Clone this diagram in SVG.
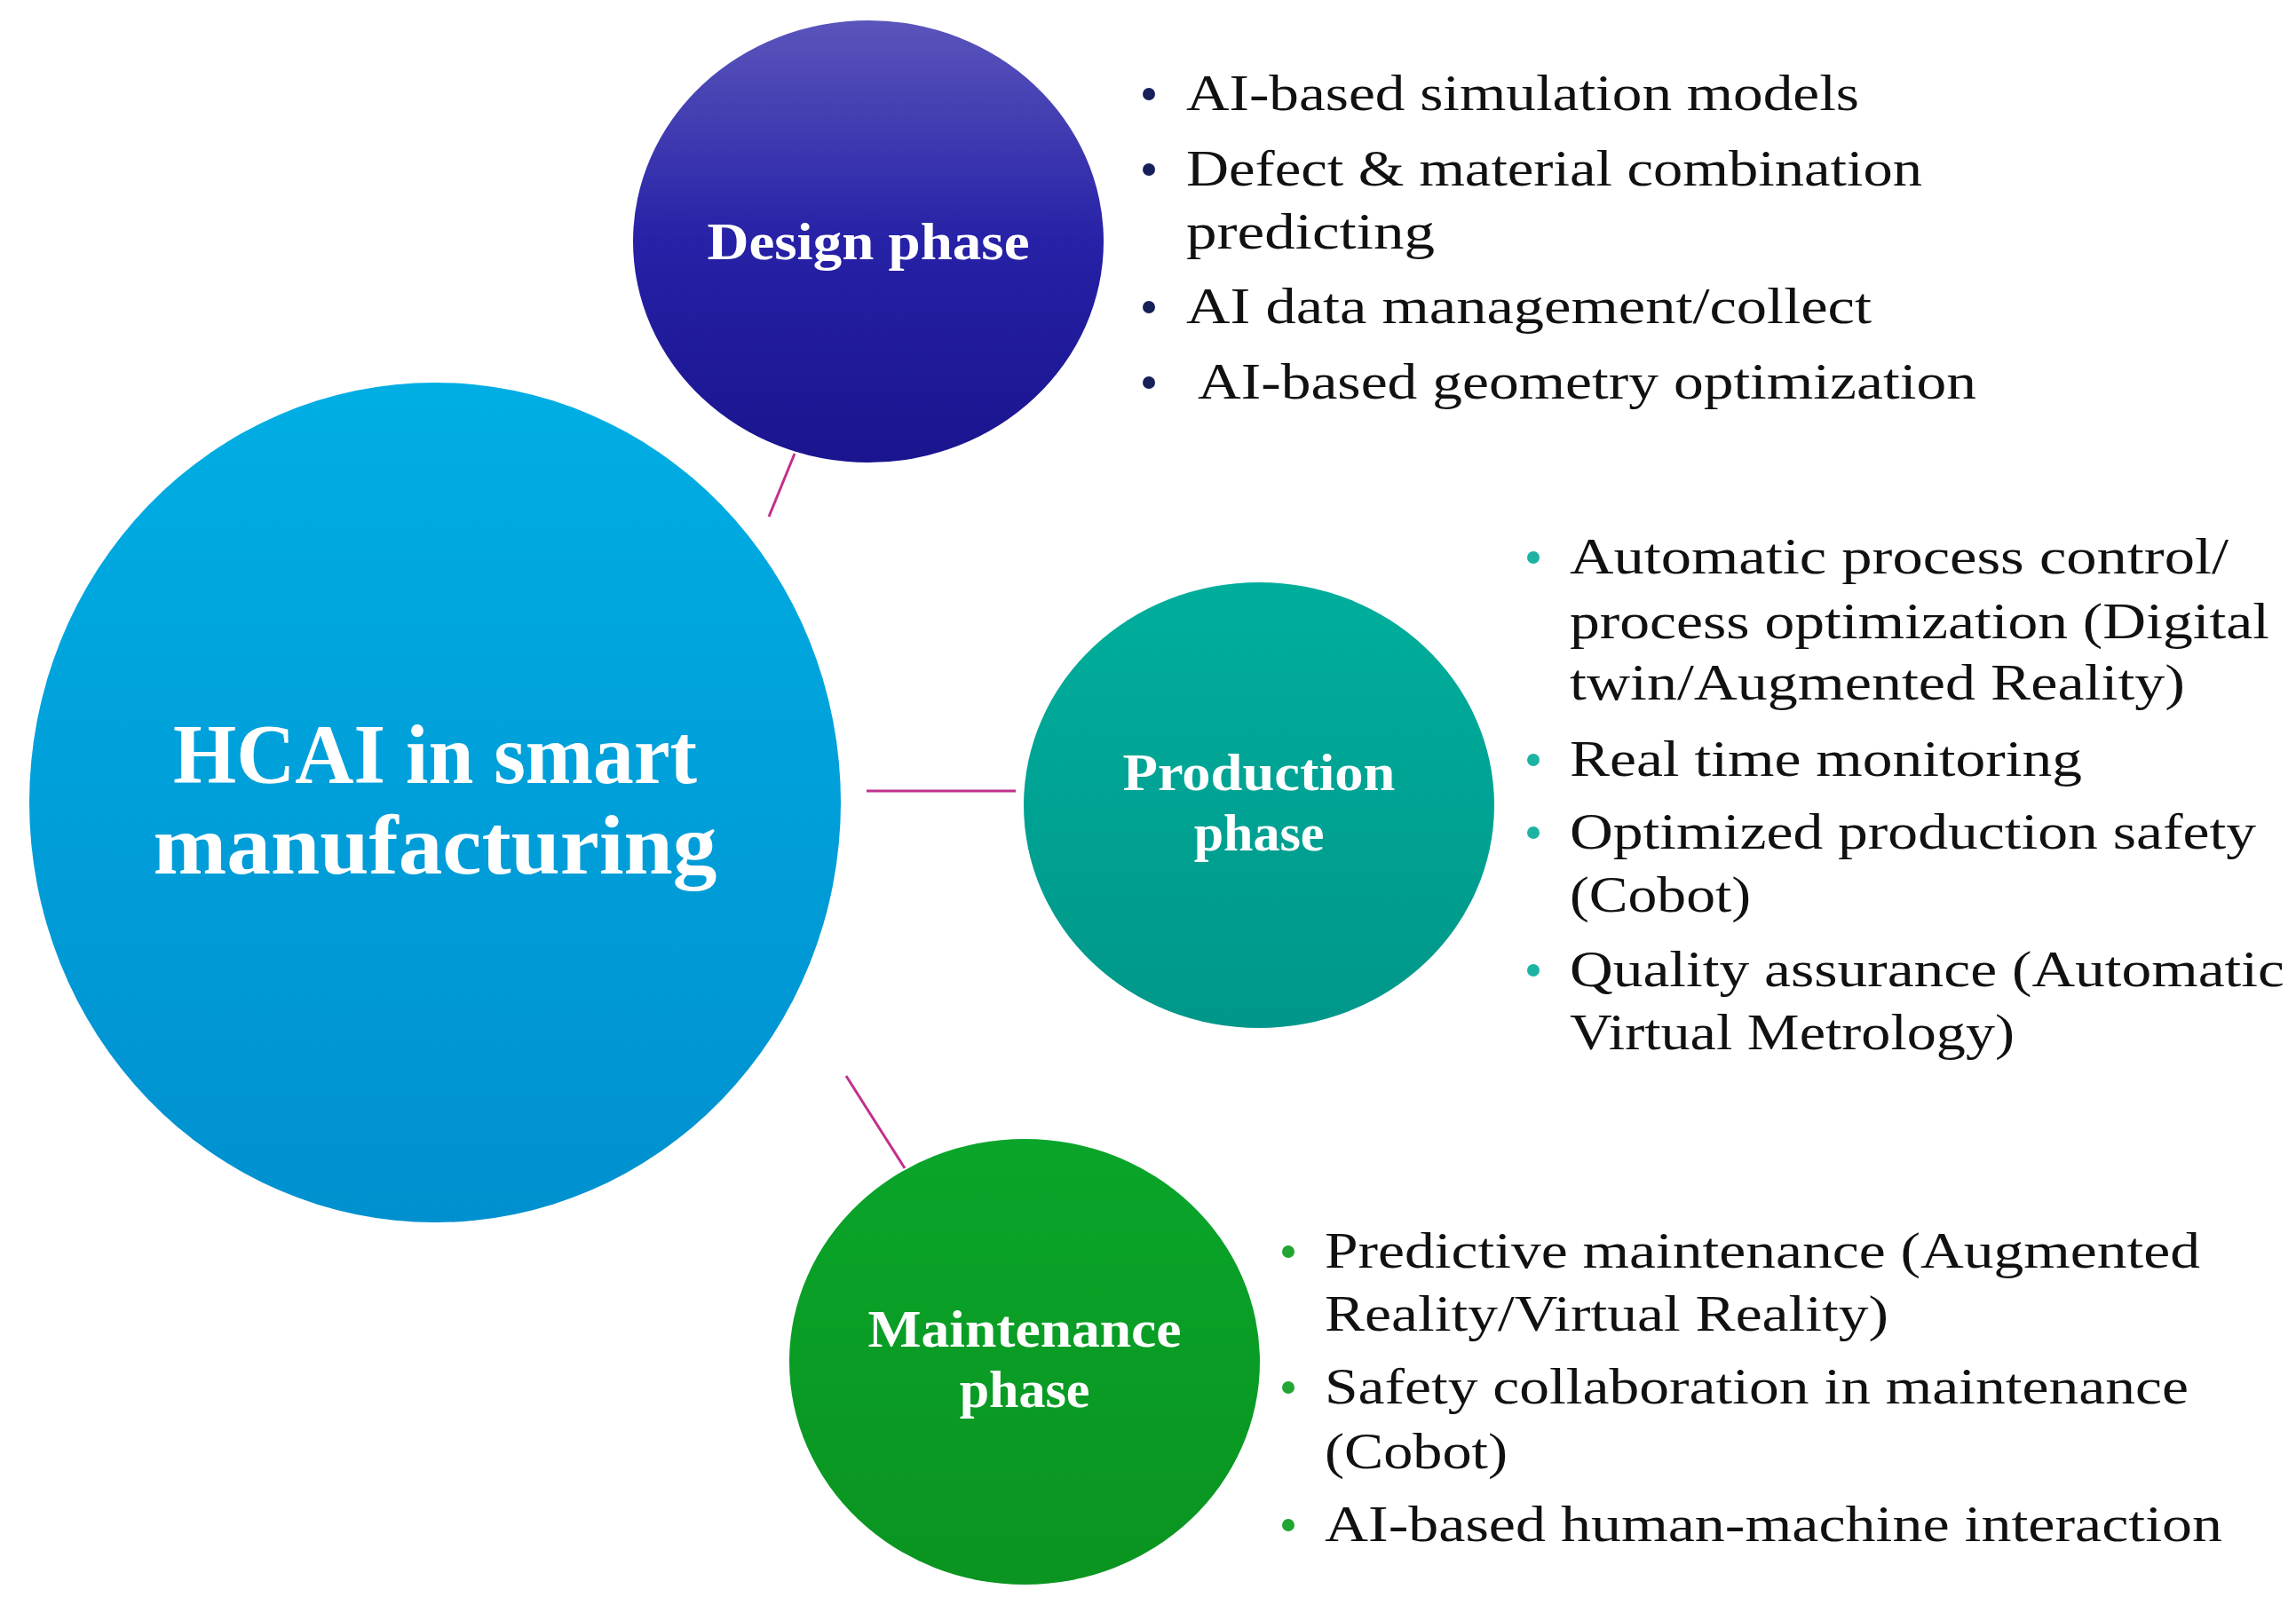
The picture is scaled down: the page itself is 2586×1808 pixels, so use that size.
<svg xmlns="http://www.w3.org/2000/svg" width="2586" height="1808" viewBox="0 0 2586 1808">
<style>
.lbl{font-family:"Liberation Serif","DejaVu Serif",serif;font-weight:bold;fill:#fff;text-anchor:middle}
.t{font-family:"Liberation Serif","DejaVu Serif",serif;font-size:58px;fill:#111}
.con{stroke:#c2308c;stroke-width:3;fill:none}
</style>
<defs>
<linearGradient id="gD" x1="0" y1="0" x2="0" y2="1"><stop offset="0" stop-color="#5a55bb"/><stop offset="0.5" stop-color="#2621a6"/><stop offset="1" stop-color="#1a148e"/></linearGradient>
<linearGradient id="gM" x1="0" y1="0" x2="0" y2="1"><stop offset="0" stop-color="#00aee4"/><stop offset="1" stop-color="#0090cf"/></linearGradient>
<linearGradient id="gP" x1="0" y1="0" x2="0" y2="1"><stop offset="0" stop-color="#00ae9c"/><stop offset="1" stop-color="#00978a"/></linearGradient>
<linearGradient id="gN" x1="0" y1="0" x2="0" y2="1"><stop offset="0" stop-color="#0aa52a"/><stop offset="1" stop-color="#0a9420"/></linearGradient>
</defs>
<rect width="2586" height="1808" fill="#fff"/>
<g id="connectors">
<line class="con" x1="866" y1="582" x2="895" y2="511"/>
<line class="con" x1="976" y1="891" x2="1144" y2="891"/>
<line class="con" x1="953" y1="1212" x2="1019" y2="1316"/>
</g>
<g id="main">
<ellipse cx="490" cy="904" rx="457" ry="473" fill="url(#gM)"/>
<text class="lbl" x="490" y="882" font-size="96" textLength="590" lengthAdjust="spacingAndGlyphs">HCAI in smart</text>
<text class="lbl" x="490" y="984" font-size="96" textLength="635" lengthAdjust="spacingAndGlyphs">manufacturing</text>
</g>
<g id="design">
<ellipse cx="978" cy="272" rx="265" ry="249" fill="url(#gD)"/>
<text class="lbl" x="978" y="292" font-size="60" textLength="363" lengthAdjust="spacingAndGlyphs">Design phase</text>
<g fill="#16205a"><circle cx="1294" cy="106" r="7"/><circle cx="1294" cy="191" r="7"/><circle cx="1294" cy="346" r="7"/><circle cx="1294" cy="431" r="7"/></g>
<text class="t" x="1336" y="124" textLength="758" lengthAdjust="spacingAndGlyphs">AI-based simulation models</text>
<text class="t" x="1336" y="209" textLength="829" lengthAdjust="spacingAndGlyphs">Defect &amp; material combination</text>
<text class="t" x="1336" y="280" textLength="280" lengthAdjust="spacingAndGlyphs">predicting</text>
<text class="t" x="1336" y="364" textLength="772" lengthAdjust="spacingAndGlyphs">AI data management/collect</text>
<text class="t" x="1349" y="449" textLength="877" lengthAdjust="spacingAndGlyphs">AI-based geometry optimization</text>
</g>
<g id="production">
<ellipse cx="1418" cy="907" rx="265" ry="251" fill="url(#gP)"/>
<text class="lbl" x="1418" y="890" font-size="60" textLength="307" lengthAdjust="spacingAndGlyphs">Production</text>
<text class="lbl" x="1418" y="958" font-size="60">phase</text>
<g fill="#1db3a3"><circle cx="1727" cy="628" r="7"/><circle cx="1727" cy="856" r="7"/><circle cx="1727" cy="938" r="7"/><circle cx="1727" cy="1093" r="7"/></g>
<text class="t" x="1768" y="646" textLength="742" lengthAdjust="spacingAndGlyphs">Automatic process control/</text>
<text class="t" x="1768" y="719" textLength="788" lengthAdjust="spacingAndGlyphs">process optimization (Digital</text>
<text class="t" x="1768" y="788" textLength="693" lengthAdjust="spacingAndGlyphs">twin/Augmented Reality)</text>
<text class="t" x="1768" y="874" textLength="577" lengthAdjust="spacingAndGlyphs">Real time monitoring</text>
<text class="t" x="1768" y="956" textLength="773" lengthAdjust="spacingAndGlyphs">Optimized production safety</text>
<text class="t" x="1768" y="1027" textLength="204" lengthAdjust="spacingAndGlyphs">(Cobot)</text>
<text class="t" x="1768" y="1111" textLength="805" lengthAdjust="spacingAndGlyphs">Quality assurance (Automatic</text>
<text class="t" x="1768" y="1182" textLength="501" lengthAdjust="spacingAndGlyphs">Virtual Metrology)</text>
</g>
<g id="maintenance">
<ellipse cx="1154" cy="1534" rx="265" ry="251" fill="url(#gN)"/>
<text class="lbl" x="1154" y="1517" font-size="60" textLength="353" lengthAdjust="spacingAndGlyphs">Maintenance</text>
<text class="lbl" x="1154" y="1585" font-size="60">phase</text>
<g fill="#22a532"><circle cx="1451" cy="1410" r="7"/><circle cx="1451" cy="1563" r="7"/><circle cx="1451" cy="1718" r="7"/></g>
<text class="t" x="1492" y="1428" textLength="986" lengthAdjust="spacingAndGlyphs">Predictive maintenance (Augmented</text>
<text class="t" x="1492" y="1499" textLength="635" lengthAdjust="spacingAndGlyphs">Reality/Virtual Reality)</text>
<text class="t" x="1492" y="1581" textLength="973" lengthAdjust="spacingAndGlyphs">Safety collaboration in maintenance</text>
<text class="t" x="1492" y="1654" textLength="206" lengthAdjust="spacingAndGlyphs">(Cobot)</text>
<text class="t" x="1492" y="1736" textLength="1011" lengthAdjust="spacingAndGlyphs">AI-based human-machine interaction</text>
</g>
</svg>
